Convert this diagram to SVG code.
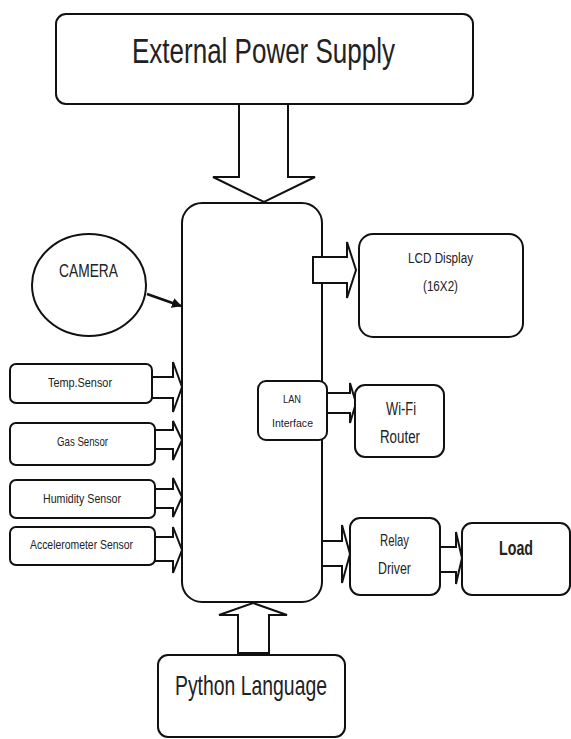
<svg xmlns="http://www.w3.org/2000/svg" width="571" height="739" viewBox="0 0 571 739">
<style>
.box{fill:#fff;stroke:#111;stroke-width:2}
.arr{fill:#fff;stroke:#111;stroke-width:2;stroke-linejoin:miter}
.t{font-family:"Liberation Sans",Arial,sans-serif;fill:#222;text-anchor:middle}
</style>
<defs>
<marker id="ah" viewBox="0 0 10 10" refX="9" refY="5" markerWidth="4" markerHeight="4" orient="auto">
<path d="M0,0 L10,5 L0,10 z" fill="#111"/>
</marker>
</defs>
<rect width="571" height="739" fill="#fff"/>

<g id="controller">
<rect class="box" x="182" y="203" width="140" height="399" rx="20"/>
</g>

<g id="connectors">
<polygon class="arr" points="239,104 239,177 213,177 264,202 315,177 288,177 288,104"/>
<polygon class="arr" points="238,653 238,615 219,615 253,603 287,615 269,615 269,653"/>
<line x1="147" y1="294" x2="181" y2="306" stroke="#111" stroke-width="2.5" marker-end="url(#ah)"/>
<polygon class="arr" points="152,377 173,377 173,362 182,387 173,412 173,398 152,398"/>
<polygon class="arr" points="155,430 173,430 173,421 182,440 173,460 173,449 155,449"/>
<polygon class="arr" points="155,489 173,489 173,478 182,497 173,517 173,508 155,508"/>
<polygon class="arr" points="155,537 173,537 173,527 182,550 173,573 173,561 155,561"/>
<polygon class="arr" points="313,257 347,257 347,242 356,270 347,298 347,283 313,283"/>
<polygon class="arr" points="327,393 350,393 350,383 356,403 350,423 350,413 327,413"/>
<polygon class="arr" points="322,541 342,541 342,525 350,554 342,583 342,566 322,566"/>
<polygon class="arr" points="440,547 456,547 456,532 462,558 456,584 456,572 440,572"/>
</g>

<g id="power">
<rect class="box" x="56" y="14" width="417" height="90" rx="10"/>
<text class="t" x="263.5" y="63" font-size="35" textLength="263" lengthAdjust="spacingAndGlyphs">External Power Supply</text>
</g>

<g id="camera">
<ellipse class="box" cx="89" cy="285" rx="57" ry="51"/>
<text class="t" x="88.5" y="277" font-size="18" textLength="59" lengthAdjust="spacingAndGlyphs">CAMERA</text>
</g>

<g id="temp">
<rect class="box" x="10" y="364" width="142" height="39" rx="6"/>
<text class="t" x="80" y="387" font-size="13" textLength="64" lengthAdjust="spacingAndGlyphs">Temp.Sensor</text>
</g>
<g id="gas">
<rect class="box" x="10" y="423" width="145" height="42" rx="6"/>
<text class="t" x="82.5" y="446" font-size="13" textLength="51" lengthAdjust="spacingAndGlyphs">Gas Sensor</text>
</g>
<g id="humidity">
<rect class="box" x="10" y="480" width="145" height="38" rx="6"/>
<text class="t" x="82" y="503" font-size="13" textLength="78" lengthAdjust="spacingAndGlyphs">Humidity Sensor</text>
</g>
<g id="accel">
<rect class="box" x="10" y="527" width="145" height="38" rx="6"/>
<text class="t" x="81.5" y="549" font-size="13" textLength="103" lengthAdjust="spacingAndGlyphs">Accelerometer Sensor</text>
</g>

<g id="lcd">
<rect class="box" x="359" y="234" width="164" height="103" rx="14"/>
<text class="t" x="440.5" y="263" font-size="14" textLength="65" lengthAdjust="spacingAndGlyphs">LCD Display</text>
<text class="t" x="440.5" y="291" font-size="14" textLength="35" lengthAdjust="spacingAndGlyphs">(16X2)</text>
</g>

<g id="lan">
<rect class="box" x="258" y="381" width="69" height="59" rx="8"/>
<text class="t" x="292" y="403" font-size="11" textLength="18" lengthAdjust="spacingAndGlyphs">LAN</text>
<text class="t" x="292.5" y="427" font-size="11" textLength="41" lengthAdjust="spacingAndGlyphs">Interface</text>
</g>

<g id="wifi">
<rect class="box" x="355" y="385" width="89" height="72" rx="10"/>
<text class="t" x="401" y="415" font-size="18" textLength="30" lengthAdjust="spacingAndGlyphs">Wi-Fi</text>
<text class="t" x="400" y="443" font-size="18" textLength="40" lengthAdjust="spacingAndGlyphs">Router</text>
</g>

<g id="relay">
<rect class="box" x="350" y="518" width="90" height="77" rx="10"/>
<text class="t" x="394.5" y="546" font-size="17" textLength="29" lengthAdjust="spacingAndGlyphs">Relay</text>
<text class="t" x="394.5" y="574" font-size="17" textLength="33" lengthAdjust="spacingAndGlyphs">Driver</text>
</g>

<g id="load">
<rect class="box" x="462" y="523" width="108" height="72" rx="10"/>
<text class="t" x="516" y="555" font-size="20" font-weight="bold" textLength="34" lengthAdjust="spacingAndGlyphs">Load</text>
</g>

<g id="python">
<rect class="box" x="158" y="655" width="187" height="82" rx="10"/>
<text class="t" x="251" y="695" font-size="28" textLength="152" lengthAdjust="spacingAndGlyphs">Python Language</text>
</g>
</svg>
